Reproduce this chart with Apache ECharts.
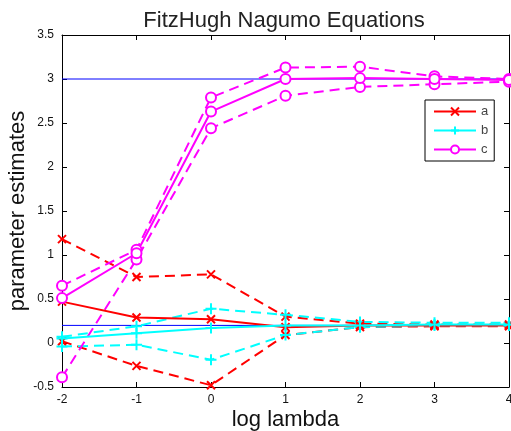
<!DOCTYPE html>
<html><head><meta charset="utf-8">
<script src="https://cdn.jsdelivr.net/npm/echarts@6/dist/echarts.min.js"></script>
<style>html,body{margin:0;padding:0;background:#fff}#c{width:511px;height:431px}</style>
</head><body><div id="c"></div>
<script>
const logLambda = [-2, -1, 0, 1, 2, 3, 4];
const aEst = [0.47, 0.29, 0.27, 0.18, 0.20, 0.20, 0.20];
const aHi  = [1.18, 0.75, 0.78, 0.30, 0.22, 0.21, 0.21];
const aLo  = [0.02, -0.26, -0.48, 0.09, 0.18, 0.19, 0.19];
const bEst = [0.05, 0.11, 0.17, 0.20, 0.20, 0.21, 0.21];
const bHi  = [0.07, 0.19, 0.39, 0.32, 0.24, 0.23, 0.23];
const bLo  = [-0.04, -0.02, -0.19, 0.09, 0.18, 0.20, 0.20];
const cEst = [0.51, 1.02, 2.63, 3.00, 3.01, 3.00, 2.99];
const cHi  = [0.65, 1.06, 2.79, 3.13, 3.14, 3.03, 3.00];
const cLo  = [-0.39, 0.95, 2.44, 2.81, 2.91, 2.94, 2.97];
const trueVals = [3, 0.2];
const yTicks = [-0.5, 0, 0.5, 1, 1.5, 2, 2.5, 3, 3.5];

const FONT = 'Liberation Sans, Arial, sans-serif';
const xMark = 'path://M0,0L10,10M10,0L0,10';
const plusMark = 'path://M5,0L5,10M0,5L10,5';
const pair = arr => logLambda.map((x, i) => [x, arr[i]]);

function mk(name, arr, color, symbol, size, dashed) {
  const circ = symbol === 'emptyCircle';
  return {
    name, type: 'line', data: pair(arr),
    symbol, symbolSize: size, showSymbol: true, clip: false,
    lineStyle: { color, width: 2, type: dashed ? [10, 6] : 'solid' },
    itemStyle: { color, borderColor: color, borderWidth: circ ? 1.6 : 2 },
    emphasis: { disabled: true }, z: 3
  };
}
const series = [];
trueVals.forEach((v, i) => series.push({
  name: 'true' + i, type: 'line', data: [[-2, v], [4, v]], symbol: 'none',
  lineStyle: { color: '#0000ff', width: 1 }, emphasis: { disabled: true }, z: 2
}));
series.push(mk('aHi', aHi, '#ff0000', xMark, 8, true));
series.push(mk('aLo', aLo, '#ff0000', xMark, 8, true));
series.push(mk('bHi', bHi, '#00ffff', plusMark, 11, true));
series.push(mk('bLo', bLo, '#00ffff', plusMark, 11, true));
series.push(mk('cHi', cHi, '#ff00ff', 'emptyCircle', 10, true));
series.push(mk('cLo', cLo, '#ff00ff', 'emptyCircle', 10, true));
series.push(mk('a', aEst, '#ff0000', xMark, 8, false));
series.push(mk('b', bEst, '#00ffff', plusMark, 11, false));
series.push(mk('c', cEst, '#ff00ff', 'emptyCircle', 10, false));

const axisLine = { show: true, onZero: false, lineStyle: { color: '#000', width: 1 } };
const tick = { show: true, inside: true, length: 5, lineStyle: { color: '#000' } };
const chart = echarts.init(document.getElementById('c'), null, { renderer: 'canvas' });
chart.setOption({
  animation: false,
  backgroundColor: '#fff',
  title: { text: 'FitzHugh Nagumo Equations', left: 279, textAlign: 'center', top: 5,
    textStyle: { fontFamily: FONT, fontSize: 22, fontWeight: 'normal', color: '#222' } },
  grid: { left: 62, right: 2, top: 35, bottom: 44, containLabel: false, outerBoundsMode: 'none' },
  legend: {
    data: ['a', 'b', 'c'], orient: 'vertical', left: 425, top: 100,
    itemWidth: 42, itemHeight: 10, itemGap: 6,
    padding: [5, 6, 5, 8], borderColor: '#000', borderWidth: 1, backgroundColor: '#fff',
    textStyle: { fontFamily: FONT, fontSize: 13, color: '#444' }
  },
  xAxis: [
    { type: 'value', min: -2, max: 4, interval: 1, position: 'bottom',
      name: 'log lambda', nameLocation: 'middle', nameGap: 22, nameMoveOverlap: false,
      nameTextStyle: { fontFamily: FONT, fontSize: 22, color: '#111' },
      axisLine, axisTick: tick, splitLine: { show: false },
      axisLabel: { fontFamily: FONT, fontSize: 12, color: '#111', margin: 7 } },
    { type: 'value', min: -2, max: 4, interval: 1, position: 'top',
      axisLine, axisTick: tick, splitLine: { show: false }, axisLabel: { show: false } }
  ],
  yAxis: [
    { type: 'value', min: -0.5, max: 3.5, interval: 0.5, position: 'left',
      name: 'parameter estimates', nameLocation: 'middle', nameGap: 33, nameMoveOverlap: false,
      nameTextStyle: { fontFamily: FONT, fontSize: 22, color: '#111' },
      axisLine, axisTick: tick, splitLine: { show: false },
      axisLabel: { fontFamily: FONT, fontSize: 12, color: '#111', margin: 8,
        formatter: v => yTicks.includes(+v) ? String(+v) : '' } },
    { type: 'value', min: -0.5, max: 3.5, interval: 0.5, position: 'right',
      axisLine, axisTick: tick, splitLine: { show: false }, axisLabel: { show: false } }
  ],
  series
});
</script></body></html>
